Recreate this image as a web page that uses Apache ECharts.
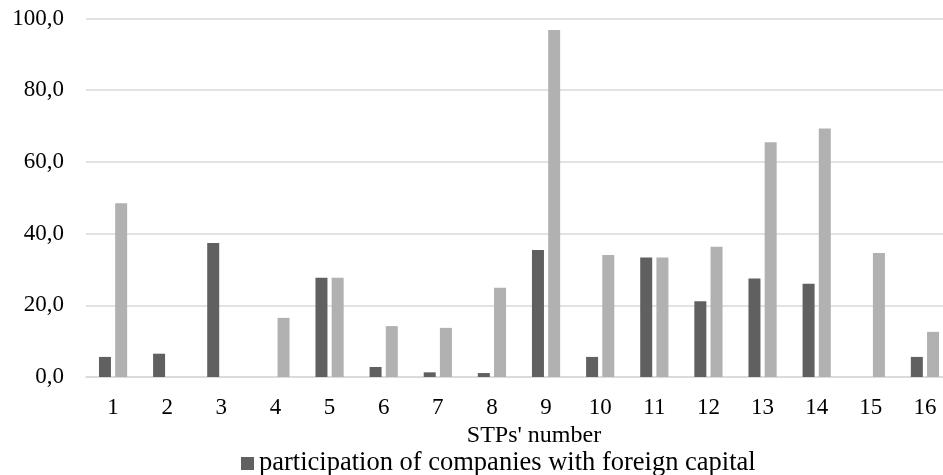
<!DOCTYPE html>
<html>
<head>
<meta charset="utf-8">
<script src="https://cdn.jsdelivr.net/npm/echarts@6/dist/echarts.min.js"></script>
<style>
  html, body { margin: 0; padding: 0; background: #fff; }
  #chart { width: 943px; height: 475px; }
</style>
</head>
<body>
<div id="chart"></div>
<script>
// STP numbers on the x axis
const stps = ['1', '2', '3', '4', '5', '6', '7', '8', '9', '10', '11', '12', '13', '14', '15', '16'];
// dark bars - participation of companies with foreign capital
const foreignShare = [5.6, 6.5, 37.4, 0, 27.7, 2.8, 1.3, 1.1, 35.4, 5.6, 33.3, 21.1, 27.5, 26.0, 0, 5.6];
// light bars - second series (legend entry cut off in the source)
const otherShare = [48.5, 0, 0, 16.5, 27.7, 14.2, 13.7, 24.9, 96.8, 34.0, 33.3, 36.3, 65.5, 69.3, 34.6, 12.6];
const yTicks = [0, 20, 40, 60, 80, 100];

const font = '"Liberation Serif", "Times New Roman", serif';
const myChart = echarts.init(document.getElementById('chart'));

const option = {
  animation: false,
  textStyle: { fontFamily: font },
  legend: {
    data: ['participation of companies with foreign capital'],
    left: 236,
    top: 445,
    icon: 'rect',
    itemWidth: 13,
    itemHeight: 13,
    itemGap: 5,
    textStyle: { fontFamily: font, fontSize: 26.5, color: '#000' }
  },
  grid: {
    left: 86,
    top: 18.5,
    width: 866,
    height: 358.5,
    containLabel: false,
    outerBoundsMode: 'none'
  },
  xAxis: {
    type: 'category',
    data: stps,
    name: "STPs' number",
    nameLocation: 'middle',
    nameGap: 43,
    nameTextStyle: { fontFamily: font, fontSize: 24, color: '#000', padding: [0, 0, 0, 30] },
    axisLine: { lineStyle: { color: '#d9d9d9', width: 1.5 } },
    axisTick: { show: false },
    axisLabel: { fontFamily: font, fontSize: 23, color: '#000', margin: 19 }
  },
  yAxis: {
    type: 'value',
    min: yTicks[0],
    max: yTicks[yTicks.length - 1],
    interval: 20,
    axisLine: { show: false },
    axisTick: { show: false },
    splitLine: { lineStyle: { color: '#d9d9d9', width: 1.5 } },
    axisLabel: {
      fontFamily: font,
      fontSize: 23,
      color: '#000',
      margin: 22,
      formatter: (v) => v.toFixed(1).replace('.', ',')
    }
  },
  series: [
    {
      name: 'participation of companies with foreign capital',
      type: 'bar',
      data: foreignShare,
      barWidth: 12,
      barGap: '35%',
      itemStyle: { color: '#606060' }
    },
    {
      name: 'other companies',
      type: 'bar',
      data: otherShare,
      barWidth: 12,
      barGap: '35%',
      itemStyle: { color: '#b1b1b1' }
    }
  ]
};
myChart.setOption(option);
</script>
</body>
</html>
